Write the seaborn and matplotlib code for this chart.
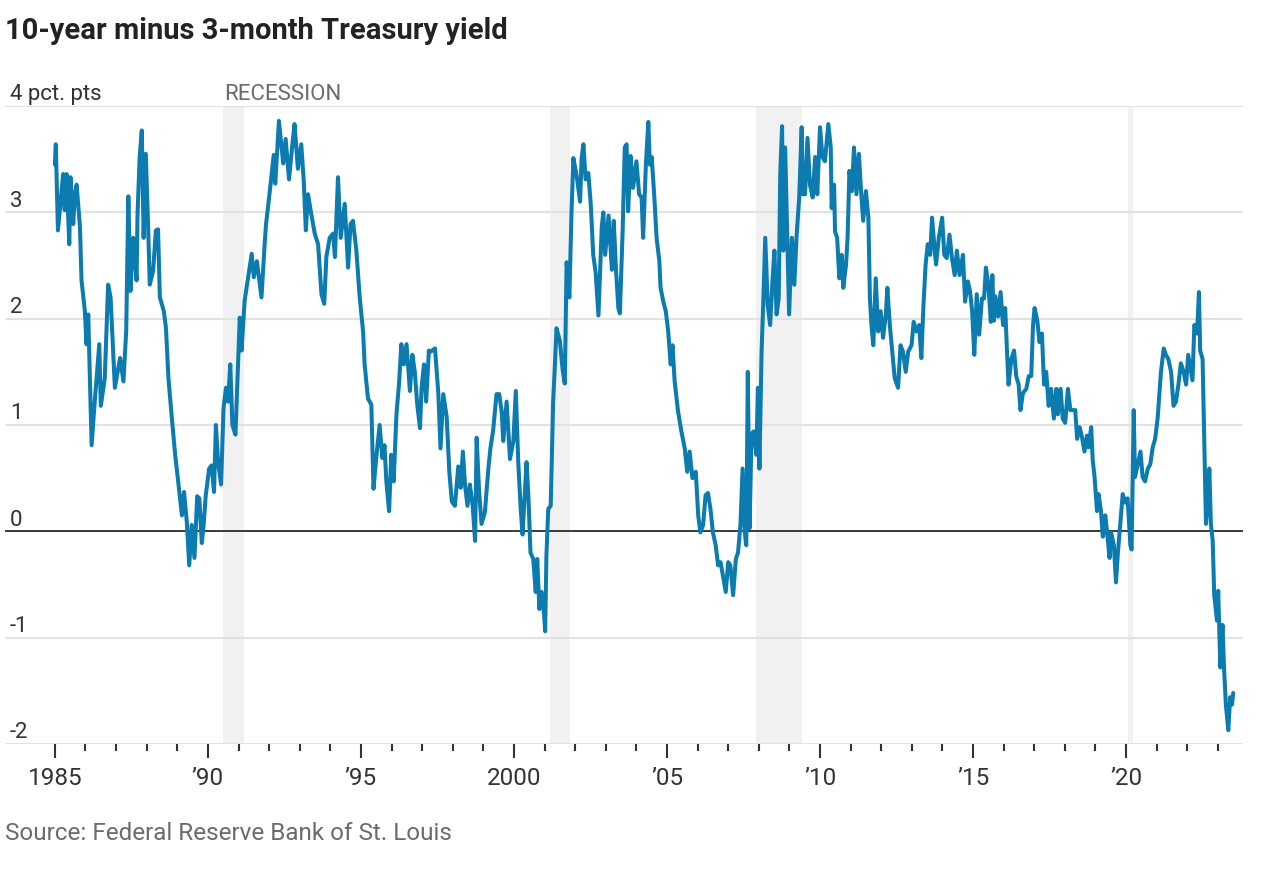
import matplotlib.pyplot as plt
import matplotlib.transforms as mtransforms
import seaborn as sns

# Spread between 10-year and 3-month Treasury yields (pct. pts)
years = [
    1985.00, 1985.03, 1985.10, 1985.27, 1985.32, 1985.38, 1985.47, 1985.51, 1985.60, 1985.65,
    1985.71, 1985.82, 1985.87, 1985.98, 1986.03, 1986.09, 1986.20, 1986.31, 1986.45, 1986.50,
    1986.63, 1986.74, 1986.82, 1986.96, 1987.13, 1987.24, 1987.33, 1987.40, 1987.47, 1987.56,
    1987.67, 1987.70, 1987.77, 1987.84, 1987.90, 1987.97, 1988.05, 1988.10, 1988.21, 1988.30,
    1988.37, 1988.43, 1988.56, 1988.63, 1988.71, 1988.82, 1988.93, 1989.04, 1989.15, 1989.22,
    1989.31, 1989.39, 1989.47, 1989.56, 1989.65, 1989.72, 1989.80, 1989.86, 1989.93, 1990.04,
    1990.12, 1990.20, 1990.26, 1990.33, 1990.43, 1990.51, 1990.59, 1990.66, 1990.73, 1990.80,
    1990.90, 1991.04, 1991.10, 1991.20, 1991.30, 1991.43, 1991.50, 1991.60, 1991.75, 1991.86,
    1991.90, 1992.00, 1992.07, 1992.15, 1992.20, 1992.32, 1992.46, 1992.54, 1992.65, 1992.76,
    1992.83, 1992.94, 1993.05, 1993.13, 1993.20, 1993.27, 1993.38, 1993.49, 1993.60, 1993.71,
    1993.80, 1993.87, 1993.98, 1994.09, 1994.15, 1994.25, 1994.34, 1994.47, 1994.58, 1994.66,
    1994.74, 1994.85, 1994.96, 1995.07, 1995.12, 1995.23, 1995.34, 1995.41, 1995.50, 1995.61,
    1995.70, 1995.77, 1995.83, 1995.92, 1995.99, 1996.07, 1996.16, 1996.25, 1996.32, 1996.40,
    1996.49, 1996.60, 1996.68, 1996.76, 1996.84, 1996.93, 1996.98, 1997.06, 1997.13, 1997.22,
    1997.28, 1997.42, 1997.53, 1997.60, 1997.69, 1997.80, 1997.89, 1997.97, 1998.07, 1998.18,
    1998.26, 1998.33, 1998.40, 1998.48, 1998.56, 1998.65, 1998.73, 1998.78, 1998.86, 1998.94,
    1999.05, 1999.16, 1999.23, 1999.32, 1999.43, 1999.52, 1999.60, 1999.65, 1999.76, 1999.87,
    1999.98, 2000.06, 2000.14, 2000.22, 2000.28, 2000.36, 2000.41, 2000.47, 2000.54, 2000.63,
    2000.71, 2000.76, 2000.83, 2000.90, 2000.98, 2001.02, 2001.06, 2001.12, 2001.20, 2001.28,
    2001.33, 2001.39, 2001.50, 2001.59, 2001.66, 2001.72, 2001.81, 2001.88, 2001.94, 2002.05,
    2002.16, 2002.21, 2002.27, 2002.34, 2002.43, 2002.51, 2002.59, 2002.67, 2002.76, 2002.87,
    2002.92, 2002.98, 2003.09, 2003.20, 2003.26, 2003.33, 2003.41, 2003.46, 2003.55, 2003.62,
    2003.68, 2003.73, 2003.81, 2003.89, 2004.00, 2004.09, 2004.17, 2004.22, 2004.31, 2004.39,
    2004.44, 2004.50, 2004.58, 2004.66, 2004.75, 2004.79, 2004.88, 2004.96, 2005.04, 2005.12,
    2005.18, 2005.25, 2005.36, 2005.47, 2005.58, 2005.66, 2005.74, 2005.83, 2005.94, 2006.02,
    2006.09, 2006.18, 2006.26, 2006.34, 2006.42, 2006.50, 2006.59, 2006.67, 2006.75, 2006.83,
    2006.92, 2007.00, 2007.07, 2007.16, 2007.25, 2007.32, 2007.40, 2007.47, 2007.54, 2007.59,
    2007.64, 2007.70, 2007.76, 2007.83, 2007.92, 2007.97, 2008.02, 2008.09, 2008.15, 2008.21,
    2008.29, 2008.37, 2008.44, 2008.51, 2008.58, 2008.65, 2008.70, 2008.76, 2008.80, 2008.86,
    2008.94, 2008.99, 2009.08, 2009.16, 2009.23, 2009.32, 2009.40, 2009.44, 2009.51, 2009.59,
    2009.67, 2009.76, 2009.84, 2009.91, 2010.00, 2010.08, 2010.16, 2010.27, 2010.35, 2010.38,
    2010.46, 2010.49, 2010.56, 2010.63, 2010.71, 2010.76, 2010.85, 2010.90, 2010.96, 2011.04,
    2011.11, 2011.19, 2011.27, 2011.34, 2011.41, 2011.50, 2011.58, 2011.63, 2011.68, 2011.74,
    2011.82, 2011.90, 2011.98, 2012.06, 2012.15, 2012.20, 2012.28, 2012.37, 2012.44, 2012.55,
    2012.63, 2012.71, 2012.80, 2012.88, 2012.99, 2013.06, 2013.15, 2013.24, 2013.31, 2013.38,
    2013.45, 2013.52, 2013.60, 2013.66, 2013.74, 2013.79, 2013.88, 2013.99, 2014.06, 2014.14,
    2014.23, 2014.31, 2014.40, 2014.47, 2014.56, 2014.67, 2014.74, 2014.83, 2014.90, 2014.97,
    2015.04, 2015.12, 2015.20, 2015.29, 2015.36, 2015.42, 2015.50, 2015.58, 2015.63, 2015.68,
    2015.73, 2015.82, 2015.90, 2015.98, 2016.05, 2016.12, 2016.16, 2016.25, 2016.34, 2016.41,
    2016.49, 2016.55, 2016.63, 2016.74, 2016.82, 2016.90, 2016.96, 2017.01, 2017.10, 2017.17,
    2017.25, 2017.32, 2017.39, 2017.47, 2017.55, 2017.64, 2017.72, 2017.77, 2017.86, 2017.93,
    2018.01, 2018.10, 2018.18, 2018.26, 2018.34, 2018.40, 2018.48, 2018.55, 2018.64, 2018.72,
    2018.77, 2018.86, 2018.91, 2018.97, 2019.05, 2019.10, 2019.18, 2019.24, 2019.32, 2019.38,
    2019.46, 2019.51, 2019.60, 2019.67, 2019.73, 2019.82, 2019.89, 2019.97, 2020.05, 2020.14,
    2020.18, 2020.25, 2020.29, 2020.38, 2020.47, 2020.54, 2020.62, 2020.71, 2020.79, 2020.87,
    2020.95, 2021.03, 2021.09, 2021.14, 2021.23, 2021.30, 2021.38, 2021.47, 2021.55, 2021.63,
    2021.71, 2021.79, 2021.88, 2021.96, 2022.03, 2022.10, 2022.17, 2022.23, 2022.32, 2022.38,
    2022.42, 2022.50, 2022.55, 2022.61, 2022.66, 2022.72, 2022.77, 2022.83, 2022.88, 2022.97,
    2023.01, 2023.08, 2023.15, 2023.20, 2023.26, 2023.34, 2023.40, 2023.46, 2023.50,
]

spread = [
    3.45, 3.64, 2.83, 3.36, 3.02, 3.36, 2.70, 3.33, 2.89, 3.17,
    3.26, 2.86, 2.36, 2.07, 1.76, 2.04, 0.81, 1.25, 1.76, 1.18,
    1.44, 2.32, 2.20, 1.35, 1.63, 1.41, 1.88, 3.15, 2.26, 2.76,
    2.36, 2.98, 3.52, 3.77, 2.76, 3.55, 2.83, 2.32, 2.45, 2.83,
    2.84, 2.20, 2.07, 1.91, 1.44, 1.07, 0.72, 0.44, 0.15, 0.37,
    0.09, -0.32, 0.06, -0.25, 0.33, 0.31, -0.11, 0.06, 0.34, 0.59,
    0.62, 0.37, 1.00, 0.66, 0.44, 1.16, 1.35, 1.22, 1.57, 1.00,
    0.91, 2.01, 1.70, 2.17, 2.36, 2.61, 2.39, 2.54, 2.20, 2.73,
    2.89, 3.14, 3.33, 3.54, 3.27, 3.86, 3.46, 3.69, 3.31, 3.64,
    3.83, 3.41, 3.64, 3.30, 2.83, 3.17, 2.98, 2.80, 2.70, 2.23,
    2.14, 2.58, 2.76, 2.80, 2.58, 3.33, 2.76, 3.08, 2.48, 2.89,
    2.92, 2.64, 2.20, 1.88, 1.57, 1.25, 1.19, 0.40, 0.69, 1.00,
    0.69, 0.81, 0.47, 0.19, 0.72, 0.47, 1.10, 1.41, 1.76, 1.57,
    1.76, 1.32, 1.66, 1.50, 1.19, 0.97, 1.35, 1.57, 1.22, 1.70,
    1.69, 1.72, 1.29, 0.78, 1.29, 1.08, 0.55, 0.28, 0.24, 0.61,
    0.41, 0.75, 0.44, 0.24, 0.44, 0.24, -0.09, 0.88, 0.38, 0.07,
    0.18, 0.58, 0.78, 0.95, 1.29, 1.29, 1.12, 0.85, 1.22, 0.68,
    0.85, 1.32, 0.65, 0.21, -0.03, 0.38, 0.65, 0.34, -0.20, -0.26,
    -0.57, -0.26, -0.73, -0.57, -0.77, -0.94, -0.23, 0.21, 0.24, 1.22,
    1.52, 1.91, 1.79, 1.52, 1.39, 2.53, 2.20, 3.00, 3.51, 3.34,
    3.10, 3.51, 3.64, 3.31, 3.37, 3.07, 2.60, 2.43, 2.03, 2.87,
    3.00, 2.60, 2.97, 2.46, 2.92, 2.48, 2.10, 2.05, 2.82, 3.61,
    3.64, 3.01, 3.53, 3.23, 3.48, 3.17, 3.14, 2.76, 3.45, 3.85,
    3.45, 3.52, 3.17, 2.76, 2.54, 2.29, 2.16, 2.07, 1.88, 1.57,
    1.75, 1.41, 1.13, 0.94, 0.78, 0.56, 0.75, 0.50, 0.56, 0.15,
    -0.01, 0.06, 0.34, 0.36, 0.21, -0.01, -0.13, -0.32, -0.29, -0.42,
    -0.57, -0.29, -0.32, -0.60, -0.26, -0.20, 0.06, 0.59, -0.01, -0.13,
    1.50, 0.03, 0.91, 0.94, 0.72, 1.35, 0.59, 1.69, 2.19, 2.76,
    2.13, 1.94, 2.32, 2.64, 2.04, 2.19, 3.36, 3.81, 2.64, 3.61,
    2.64, 2.04, 2.76, 2.32, 2.76, 3.14, 3.80, 3.17, 3.17, 3.70,
    3.26, 3.14, 3.52, 3.17, 3.80, 3.52, 3.48, 3.83, 3.61, 3.04,
    3.26, 2.82, 2.76, 2.38, 2.60, 2.29, 2.51, 2.76, 3.39, 3.20,
    3.61, 3.17, 3.55, 3.20, 2.92, 3.20, 2.95, 2.19, 1.94, 1.75,
    2.38, 1.88, 2.07, 1.82, 2.04, 2.29, 1.94, 1.66, 1.44, 1.35,
    1.75, 1.69, 1.50, 1.69, 1.75, 1.97, 1.88, 1.94, 1.63, 2.13,
    2.51, 2.70, 2.60, 2.95, 2.67, 2.51, 2.76, 2.95, 2.60, 2.57,
    2.79, 2.57, 2.41, 2.64, 2.41, 2.60, 2.16, 2.35, 2.26, 2.07,
    1.66, 2.23, 1.85, 2.19, 2.19, 2.48, 2.32, 1.97, 2.41, 1.98,
    2.21, 2.02, 2.25, 1.94, 2.10, 1.62, 1.38, 1.62, 1.70, 1.46,
    1.38, 1.14, 1.30, 1.34, 1.46, 1.46, 1.94, 2.10, 1.98, 1.78,
    1.86, 1.38, 1.50, 1.18, 1.34, 1.06, 1.34, 1.10, 1.34, 1.06,
    1.02, 1.34, 1.14, 1.14, 1.14, 0.87, 0.98, 0.90, 0.75, 0.90,
    0.79, 0.98, 0.67, 0.51, 0.19, 0.35, 0.19, -0.05, 0.15, -0.01,
    -0.25, -0.01, -0.13, -0.48, -0.21, 0.11, 0.35, 0.27, 0.31, -0.13,
    -0.17, 1.14, 0.51, 0.63, 0.75, 0.51, 0.47, 0.59, 0.63, 0.79,
    0.87, 1.06, 1.30, 1.50, 1.72, 1.66, 1.62, 1.50, 1.18, 1.22,
    1.38, 1.58, 1.50, 1.38, 1.66, 1.54, 1.42, 1.94, 1.86, 2.25,
    1.70, 1.62, 0.90, 0.07, 0.27, 0.59, 0.07, -0.09, -0.60, -0.84,
    -0.56, -1.28, -0.88, -1.28, -1.63, -1.87, -1.56, -1.63, -1.52,
]

# NBER recessions (start, end) as decimal years
recessions = [(1990.50, 1991.17), (2001.17, 2001.83), (2007.92, 2009.42), (2020.05, 2020.24)]

y_ticks = [-2, -1, 0, 1, 2, 3, 4]
y_labels = ['-2', '-1', '0', '1', '2', '3', '4 pct. pts']
x_major = [1985, 1990, 1995, 2000, 2005, 2010, 2015, 2020]
x_labels = ['1985', '\u201990', '\u201995', '2000', '\u201905', '\u201910', '\u201915', '\u201920']
x_minor = list(range(1986, 2024))

line_color = '#0b7bb0'
text_color = '#333333'
grey_text = '#6b6b6b'

sns.set_style('white')
plt.rcParams['font.family'] = ['Roboto', 'DejaVu Sans']

fig = plt.figure(figsize=(12.8, 8.7), dpi=100)
ax = fig.add_axes([5 / 1280, 1 - 745 / 870, 1238 / 1280, 638 / 870])

# recession shading
for start, end in recessions:
    ax.axvspan(start, end, color='#f1f1f1', lw=0, zorder=0)

# grid lines + zero line
for v in y_ticks:
    if v == 0:
        ax.axhline(v, color='#2b2b2b', lw=1.3, zorder=2)
    else:
        ax.axhline(v, color='#e2e2e2', lw=1.5, zorder=1)

sns.lineplot(x=years, y=spread, ax=ax, color=line_color, lw=2.9,
             estimator=None, sort=False, zorder=3)

ax.set_xlim(1983.37, 2023.82)
ax.set_ylim(-2, 4)

for side in ['top', 'right', 'left', 'bottom']:
    ax.spines[side].set_visible(False)

# y labels sit on top of the grid lines
trans = mtransforms.blended_transform_factory(ax.transAxes, ax.transData)
for v, lab in zip(y_ticks, y_labels):
    ax.text(0.004, v + 0.015, lab, transform=trans, ha='left', va='bottom',
            fontsize=16, color=text_color)
ax.set_yticks([])

ax.text(1990.52, 4.015, 'RECESSION', ha='left', va='bottom', fontsize=16, color=grey_text)

ax.set_xticks(x_major)
ax.set_xticklabels(x_labels)
ax.set_xticks(x_minor, minor=True)
ax.tick_params(axis='x', which='major', length=10, width=1.5, color=text_color,
               labelsize=17.5, labelcolor=text_color, pad=6, direction='out', bottom=True)
ax.tick_params(axis='x', which='minor', length=5, width=1.5, color=text_color,
               direction='out', bottom=True)
ax.set_xlabel('')
ax.set_ylabel('')

fig.text(5 / 1280, 1 - 31 / 870, '10-year minus 3-month Treasury yield',
         fontsize=21, fontweight='bold', color='#222222', ha='left', va='center')
fig.text(5 / 1280, 1 - 834 / 870, 'Source: Federal Reserve Bank of St. Louis',
         fontsize=17.5, color=grey_text, ha='left', va='center')

fig.savefig('out.png', dpi=100)
